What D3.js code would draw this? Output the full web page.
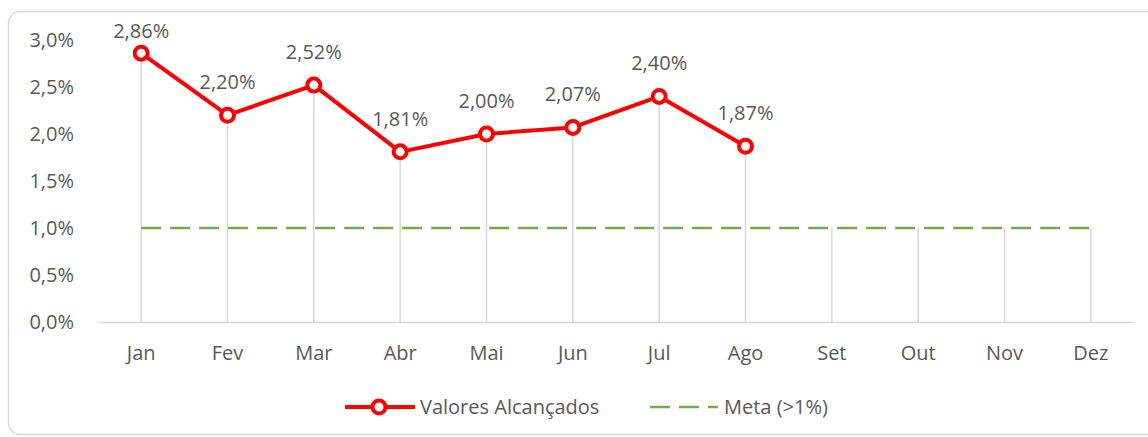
<!DOCTYPE html>
<html>
<head>
<meta charset="utf-8">
<script src="https://cdn.jsdelivr.net/npm/d3@7/dist/d3.min.js"></script>
<style>
  html, body { margin: 0; padding: 0; background: #fff; }
  svg { display: block; }
  text { font-family: "Open Sans", Lato, sans-serif; fill: #595959; }
</style>
</head>
<body>
<svg id="chart" width="1148" height="437"></svg>
<script>
// Monthly results against the target
const months = ["Jan", "Fev", "Mar", "Abr", "Mai", "Jun", "Jul", "Ago", "Set", "Out", "Nov", "Dez"];
const achieved = [2.86, 2.20, 2.52, 1.81, 2.00, 2.07, 2.40, 1.87, null, null, null, null];
const target = [1, 1, 1, 1, 1, 1, 1, 1, 1, 1, 1, 1];
const yTicks = [0, 0.5, 1.0, 1.5, 2.0, 2.5, 3.0];
const seriesNames = ["Valores Alcançados", "Meta (>1%)"];

const fmt = (v, d) => v.toFixed(d).replace(".", ",") + "%";
const FS = "20px";

const svg = d3.select("#chart");

// chart frame
svg.append("rect")
  .attr("x", 8.5).attr("y", 11.5)
  .attr("width", 1160).attr("height", 423)
  .attr("rx", 12).attr("ry", 12)
  .attr("fill", "#fff")
  .attr("stroke", "#d9d9d9").attr("stroke-width", 1.5);

const x = d3.scaleBand().domain(months).range([98, 1134]);
const cx = m => x(m) + x.bandwidth() / 2;
const y = d3.scaleLinear().domain([0, 3]).range([322, 40]);

// drop lines from the highest value of each month down to the axis
svg.append("g").selectAll("line.drop")
  .data(months)
  .join("line")
  .attr("class", "drop")
  .attr("x1", cx).attr("x2", cx)
  .attr("y1", (m, i) => y(Math.max(achieved[i] ?? 0, target[i])))
  .attr("y2", y(0))
  .attr("stroke", "#d9d9d9").attr("stroke-width", 1.5);

// category axis
const xAxis = svg.append("g")
  .attr("transform", `translate(0,${y(0)})`)
  .call(d3.axisBottom(x).tickSize(0).tickPadding(24));
xAxis.select(".domain").attr("stroke", "#d9d9d9").attr("stroke-width", 1.5);
xAxis.selectAll("text").style("font-size", FS).attr("fill", "#595959");

// value axis labels
const yAxis = svg.append("g")
  .attr("transform", "translate(74,0)")
  .call(d3.axisLeft(y).tickValues(yTicks).tickFormat(v => fmt(v, 1)).tickSize(0).tickPadding(0));
yAxis.select(".domain").remove();
yAxis.selectAll("text").style("font-size", FS).attr("fill", "#595959");

// target line
const line = d3.line().defined(d => d.v != null).x(d => cx(d.m)).y(d => y(d.v));
svg.append("path")
  .datum(months.map((m, i) => ({ m, v: target[i] })))
  .attr("d", line)
  .attr("fill", "none")
  .attr("stroke", "#70ad47").attr("stroke-width", 2.5)
  .attr("stroke-dasharray", "20,9");

// achieved series
const pts = months.map((m, i) => ({ m, v: achieved[i] })).filter(d => d.v != null);
svg.append("path")
  .datum(pts)
  .attr("d", line)
  .attr("fill", "none")
  .attr("stroke", "#ff0000").attr("stroke-width", 4)
  .attr("stroke-linejoin", "round");

svg.selectAll("circle.pt")
  .data(pts)
  .join("circle")
  .attr("class", "pt")
  .attr("cx", d => cx(d.m)).attr("cy", d => y(d.v))
  .attr("r", 6.5)
  .attr("fill", "#fff")
  .attr("stroke", "#ff0000").attr("stroke-width", 4);

// value labels above the points, kept inside the frame at the top
svg.selectAll("text.lbl")
  .data(pts)
  .join("text")
  .attr("class", "lbl")
  .attr("x", d => cx(d.m)).attr("y", d => Math.max(y(d.v) - 26, 38))
  .attr("text-anchor", "middle")
  .style("font-size", FS)
  .text(d => fmt(d.v, 2));

// legend
const leg = svg.append("g").attr("transform", "translate(0,407)");
leg.append("line").attr("x1", 345).attr("x2", 415).attr("y1", 0).attr("y2", 0)
  .attr("stroke", "#ff0000").attr("stroke-width", 4);
leg.append("circle").attr("cx", 379).attr("cy", 0).attr("r", 6.5)
  .attr("fill", "#fff").attr("stroke", "#ff0000").attr("stroke-width", 4);
leg.append("text").attr("x", 420).attr("y", 0).attr("dy", "0.35em")
  .style("font-size", FS).text(seriesNames[0]);
leg.append("line").attr("x1", 650).attr("x2", 718).attr("y1", 0).attr("y2", 0)
  .attr("stroke", "#70ad47").attr("stroke-width", 2.5).attr("stroke-dasharray", "20,9");
leg.append("text").attr("x", 724).attr("y", 0).attr("dy", "0.35em")
  .style("font-size", FS).text(seriesNames[1]);
</script>
</body>
</html>
